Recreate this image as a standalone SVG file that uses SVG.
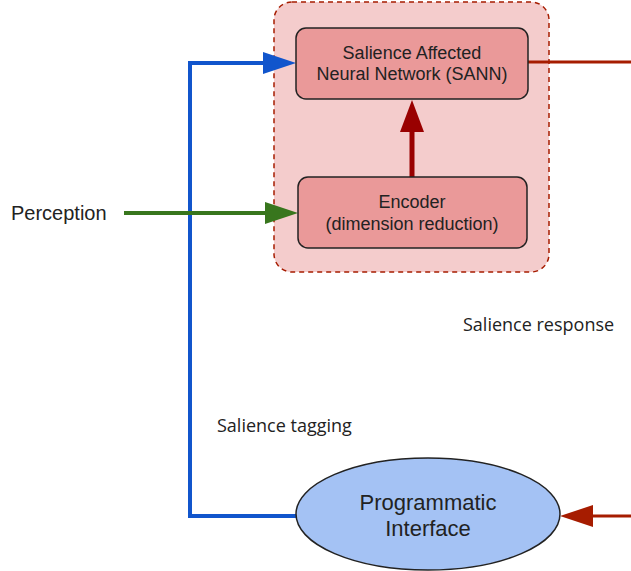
<svg xmlns="http://www.w3.org/2000/svg" width="631" height="571" viewBox="0 0 631 571">
<defs>
<style>
.box{fill:#ea9999;stroke:#222;stroke-width:1.5}
.t{font-family:"Liberation Sans",Arial,sans-serif;fill:#222;text-anchor:middle}
.lbl{font-family:"Open Sans",sans-serif;font-size:18px;fill:#222}
.blue{stroke:#1155cc;stroke-width:4;fill:none}
.green{stroke:#38761d;stroke-width:4;fill:none}
.red{stroke:#a61c00;stroke-width:3;fill:none}
.dred{stroke:#990000;stroke-width:5;fill:none}
</style>
</defs>
<rect width="631" height="571" fill="#fff"/>
<g id="container">
<rect x="274" y="2" width="275" height="270" rx="18" fill="#f4cccc" stroke="#a61c00" stroke-width="1.5" stroke-dasharray="5,4"/>
</g>
<g id="connectors">
<polyline class="blue" points="297,516 190,516 190,63 266,63"/>
<polygon points="263,52 296,63 263,74" fill="#1155cc"/>
<line class="green" x1="124" y1="213" x2="268" y2="213"/>
<polygon points="265,202 298,213 265,224" fill="#38761d"/>
<line class="dred" x1="412" y1="177" x2="412" y2="128"/>
<polygon points="400,132 412,100 424,132" fill="#990000"/>
<line class="red" x1="528" y1="62" x2="631" y2="62"/>
<line class="red" x1="590" y1="516" x2="631" y2="516"/>
<polygon points="593,505 560,516 593,527" fill="#a61c00"/>
</g>
<g id="sann">
<rect class="box" x="296" y="28" width="232" height="71" rx="10"/>
<text class="t" x="412" y="59" font-size="18">Salience Affected</text>
<text class="t" x="412" y="80" font-size="18">Neural Network (SANN)</text>
</g>
<g id="encoder">
<rect class="box" x="298" y="177" width="229" height="71" rx="10"/>
<text class="t" x="412" y="208" font-size="18">Encoder</text>
<text class="t" x="412" y="230" font-size="18">(dimension reduction)</text>
</g>
<g id="interface">
<ellipse cx="428" cy="514" rx="132" ry="56" fill="#a4c2f4" stroke="#222" stroke-width="1.5"/>
<text class="t" x="428" y="510" font-size="22">Programmatic</text>
<text class="t" x="428" y="536" font-size="22">Interface</text>
</g>
<g id="labels">
<text x="11" y="220" font-family="Liberation Sans,Arial,sans-serif" font-size="20" fill="#222">Perception</text>
<text class="lbl" x="217" y="432">Salience tagging</text>
<text class="lbl" x="463" y="331">Salience response</text>
</g>
</svg>
